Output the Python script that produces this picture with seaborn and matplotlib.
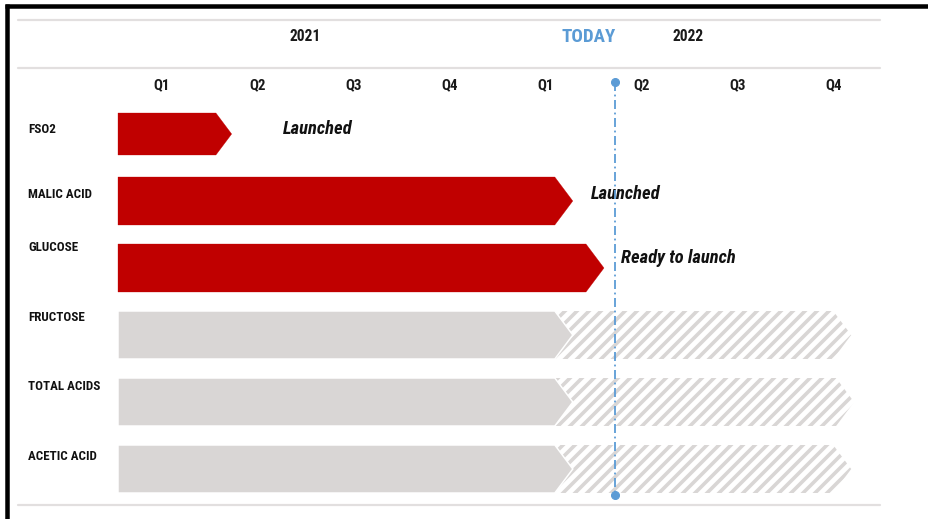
import numpy as np
import pandas as pd
import matplotlib
matplotlib.use("Agg")
import matplotlib.pyplot as plt
import seaborn as sns
from matplotlib.patches import Polygon
from matplotlib.lines import Line2D

# ---------------- data ----------------
tasks = ["FSO2", "MALIC ACID", "GLUCOSE", "FRUCTOSE", "TOTAL ACIDS", "ACETIC ACID"]
# positions are in quarters counted from the start of 2021 Q1
done_end = [1.02, 4.55, 4.875, 4.55, 4.55, 4.55]
plan_end = [np.nan, np.nan, np.nan, 7.45, 7.48, 7.45]
status = ["Launched", "Launched", "Ready", "Planned", "Planned", "Planned"]
notes = ["Launched", "Launched", "Ready to launch", "", "", ""]
quarter_labels = ["Q1", "Q2", "Q3", "Q4", "Q1", "Q2", "Q3", "Q4"]
year_labels = ["2021", "2022"]
year_pos = [1.95, 5.94]
today = 5.18

# ---------------- style ----------------
sns.set_style("white")
FONTS = ["Roboto Condensed", "Liberation Sans Narrow", "Roboto", "DejaVu Sans"]
plt.rcParams["font.family"] = FONTS
plt.rcParams["hatch.linewidth"] = 3.6
RED = "#c00000"
GREY = "#d9d6d5"
BLUE = "#5b9bd5"
LINE = "#e2dfdf"

W, H, DPI = 928, 519, 72
fig = plt.figure(figsize=(W / DPI, H / DPI), dpi=DPI)
ax = fig.add_axes([0, 0, 1, 1])

# pixel layout helpers (layout only)
X0, XS = 118.0, 96.0     # px of quarter 0, px per quarter
Y0, YS = 134.0, 67.0     # px of row 0 centre, px per row
def px_x(p):
    return (p - X0) / XS
def px_y(p):
    return (p - Y0) / YS

df = pd.DataFrame({"task": tasks, "done": done_end, "plan": plan_end, "status": status})
bar_h = 48 / YS
tip = 18 / XS

# planned (hatched) bars first, then solid bars on top
plan_df = df.dropna(subset=["plan"])
sns.barplot(data=plan_df, x="plan", y="task", order=tasks, orient="h",
            color="white", width=bar_h, ax=ax, linewidth=0, legend=False,
            saturation=1)
plan_patches = list(ax.patches)

sns.barplot(data=df, x="done", y="task", hue="status", order=tasks, orient="h",
            palette={"Launched": RED, "Ready": RED, "Planned": GREY},
            dodge=False, width=bar_h, ax=ax, linewidth=0, legend=False,
            saturation=1)
done_patches = [p for p in ax.patches if p not in plan_patches]


def arrowize(rect, face, hatch=None, hatch_color=None, edge="none", lw=0, z=2, hscale=1.0):
    x = rect.get_x()
    w = rect.get_width()
    if not np.isfinite(w) or w == 0:
        rect.set_visible(False)
        return
    yc = rect.get_y() + rect.get_height() / 2
    h = rect.get_height() * hscale
    t = tip * hscale
    x1 = x + w
    verts = [(x, yc - h / 2), (x1, yc - h / 2), (x1 + t, yc), (x1, yc + h / 2), (x, yc + h / 2)]
    poly = Polygon(verts, closed=True, facecolor=face, zorder=z,
                   edgecolor=hatch_color if hatch else edge, linewidth=lw, hatch=hatch)
    ax.add_patch(poly)
    rect.set_visible(False)
    return poly


for r in plan_patches:
    arrowize(r, "white", hatch="//", hatch_color=GREY, z=2)

for r in done_patches:
    w = r.get_width()
    if not np.isfinite(w) or w == 0:
        r.set_visible(False)
        continue
    row = int(round(r.get_y() + r.get_height() / 2))
    face = r.get_facecolor()
    is_grey = status[row] == "Planned"
    arrowize(r, face, edge="white" if is_grey else face,
             lw=1.5 if is_grey else 0.3, z=3,
             hscale=(42 / 48) if row == 0 else 1.0)

# today line
ax.plot([today, today], [px_y(82), px_y(495)], color=BLUE, lw=1.8,
        ls=(0, (5, 2, 1, 2)), zorder=5)
ax.plot([today, today], [px_y(82), px_y(495)], ls="none", marker="o",
        ms=8, color=BLUE, zorder=6)

# header texts
for yl, yp in zip(year_labels, year_pos):
    ax.text(yp, px_y(37), yl, ha="center", va="center", fontsize=15.5,
            fontweight="bold", color="#1a1a1a")
ax.text(px_x(589), px_y(37), "TODAY", ha="center", va="center", fontsize=19,
        fontweight="bold", color=BLUE)
for i, ql in enumerate(quarter_labels):
    ax.text(i + 0.45, px_y(85), ql, ha="center", va="center", fontsize=15,
            fontweight="bold", color="#1a1a1a")

# row labels
label_py = [130, 195, 248, 318, 387, 457]
for t, py in zip(tasks, label_py):
    ax.text(px_x(28), px_y(py), t, ha="left", va="center", fontsize=13,
            fontweight="bold", color="#111111")

# notes
note_px = [(318, 129, "center"), (591, 194, "left"), (621, 258, "left")]
for n, (nx, ny, ha) in zip(notes, note_px):
    ax.text(px_x(nx), px_y(ny), n, ha=ha, va="center", fontsize=18.5,
            fontweight="bold", fontstyle="italic", color="#111111")

ax.set_xlim(px_x(0), px_x(W))
ax.set_ylim(px_y(H), px_y(0))
ax.axis("off")

# separator lines
for py in [20, 68, 505]:
    fig.add_artist(Line2D([18 / W, 880 / W], [1 - py / H] * 2, color=LINE, lw=2.2,
                          transform=fig.transFigure))
# black frame (top and left)
fig.add_artist(Line2D([5 / W, 1], [1 - 6 / H] * 2, color="black", lw=4.5,
                      transform=fig.transFigure, solid_capstyle="butt"))
fig.add_artist(Line2D([7 / W] * 2, [0, 1 - 4 / H], color="black", lw=4.5,
                      transform=fig.transFigure, solid_capstyle="butt"))

fig.savefig("out.png", dpi=DPI, facecolor="white")
